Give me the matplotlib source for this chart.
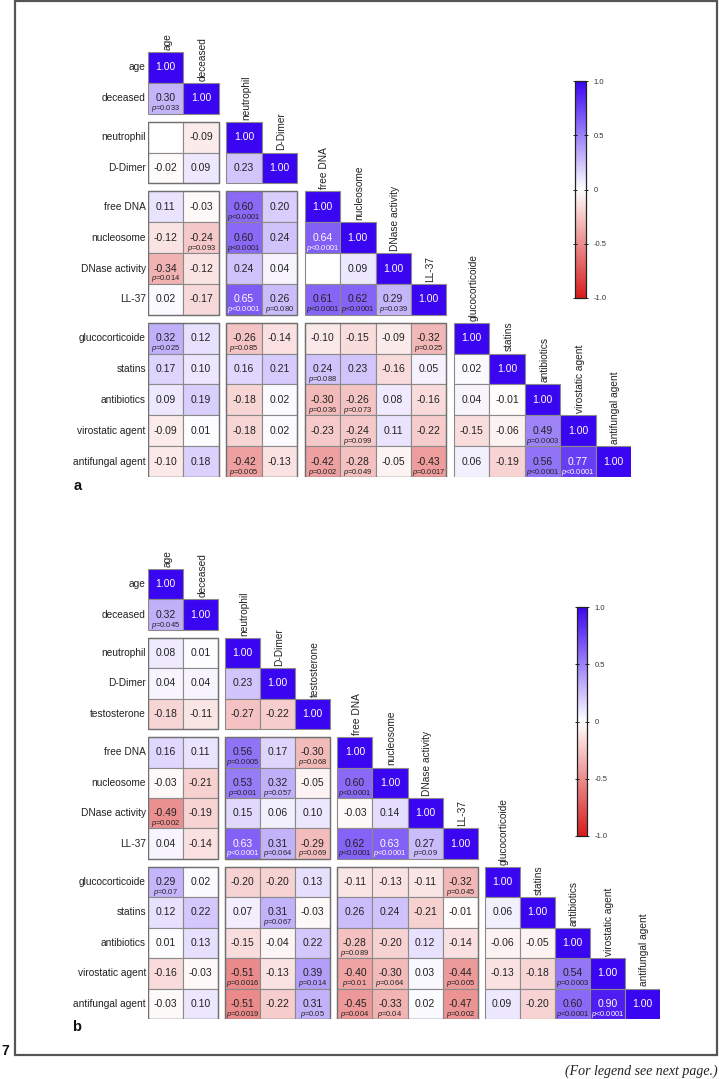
import matplotlib
matplotlib.use('Agg')
import matplotlib.pyplot as plt
from matplotlib.colors import LinearSegmentedColormap, Normalize
from matplotlib.patches import Rectangle
import matplotlib.cm as cm

W, H = 719, 1079
plt.rcParams['font.family'] = ['Liberation Sans', 'DejaVu Sans']
plt.rcParams['mathtext.fontset'] = 'custom'
plt.rcParams['mathtext.it'] = 'Liberation Sans:italic'
plt.rcParams['mathtext.rm'] = 'Liberation Sans'

# ---------------- data: panel a ----------------
labels_a = ['age', 'deceased', 'neutrophil', 'D-Dimer', 'free DNA', 'nucleosome',
            'DNase activity', 'LL-37', 'glucocorticoide', 'statins', 'antibiotics',
            'virostatic agent', 'antifungal agent']
groups_a = [2, 2, 4, 5]
r_a = [
    [],
    [0.30],
    [None, -0.09],
    [-0.02, 0.09, 0.23],
    [0.11, -0.03, 0.60, 0.20],
    [-0.12, -0.24, 0.60, 0.24, 0.64],
    [-0.34, -0.12, 0.24, 0.04, None, 0.09],
    [0.02, -0.17, 0.65, 0.26, 0.61, 0.62, 0.29],
    [0.32, 0.12, -0.26, -0.14, -0.10, -0.15, -0.09, -0.32],
    [0.17, 0.10, 0.16, 0.21, 0.24, 0.23, -0.16, 0.05, 0.02],
    [0.09, 0.19, -0.18, 0.02, -0.30, -0.26, 0.08, -0.16, 0.04, -0.01],
    [-0.09, 0.01, -0.18, 0.02, -0.23, -0.24, 0.11, -0.22, -0.15, -0.06, 0.49],
    [-0.10, 0.18, -0.42, -0.13, -0.42, -0.28, -0.05, -0.43, 0.06, -0.19, 0.56, 0.77],
]
p_a = [
    [],
    ['=0.033'],
    ['', ''],
    ['', '', ''],
    ['', '', '<0.0001', ''],
    ['', '=0.093', '<0.0001', '', '<0.0001'],
    ['=0.014', '', '', '', '', ''],
    ['', '', '<0.0001', '=0.080', '<0.0001', '<0.0001', '=0.039'],
    ['=0.025', '', '=0.085', '', '', '', '', '=0.025'],
    ['', '', '', '', '=0.088', '', '', '', ''],
    ['', '', '', '', '=0.036', '=0.073', '', '', '', ''],
    ['', '', '', '', '', '=0.099', '', '', '', '', '=0.0003'],
    ['', '', '=0.005', '', '=0.002', '=0.049', '', '=0.0017', '', '', '<0.0001', '<0.0001'],
]

# ---------------- data: panel b ----------------
labels_b = ['age', 'deceased', 'neutrophil', 'D-Dimer', 'testosterone', 'free DNA',
            'nucleosome', 'DNase activity', 'LL-37', 'glucocorticoide', 'statins',
            'antibiotics', 'virostatic agent', 'antifungal agent']
groups_b = [2, 3, 4, 5]
r_b = [
    [],
    [0.32],
    [0.08, 0.01],
    [0.04, 0.04, 0.23],
    [-0.18, -0.11, -0.27, -0.22],
    [0.16, 0.11, 0.56, 0.17, -0.30],
    [-0.03, -0.21, 0.53, 0.32, -0.05, 0.60],
    [-0.49, -0.19, 0.15, 0.06, 0.10, -0.03, 0.14],
    [0.04, -0.14, 0.63, 0.31, -0.29, 0.62, 0.63, 0.27],
    [0.29, 0.02, -0.20, -0.20, 0.13, -0.11, -0.13, -0.11, -0.32],
    [0.12, 0.22, 0.07, 0.31, -0.03, 0.26, 0.24, -0.21, -0.01, 0.06],
    [0.01, 0.13, -0.15, -0.04, 0.22, -0.28, -0.20, 0.12, -0.14, -0.06, -0.05],
    [-0.16, -0.03, -0.51, -0.13, 0.39, -0.40, -0.30, 0.03, -0.44, -0.13, -0.18, 0.54],
    [-0.03, 0.10, -0.51, -0.22, 0.31, -0.45, -0.33, 0.02, -0.47, 0.09, -0.20, 0.60, 0.90],
]
p_b = [
    [],
    ['=0.045'],
    ['', ''],
    ['', '', ''],
    ['', '', '', ''],
    ['', '', '=0.0005', '', '=0.068'],
    ['', '', '=0.001', '=0.057', '', '<0.0001'],
    ['=0.002', '', '', '', '', '', ''],
    ['', '', '<0.0001', '=0.064', '=0.069', '<0.0001', '<0.0001', '=0.09'],
    ['=0.07', '', '', '', '', '', '', '', '=0.045'],
    ['', '', '', '=0.067', '', '', '', '', '', ''],
    ['', '', '', '', '', '=0.089', '', '', '', '', ''],
    ['', '', '=0.0016', '', '=0.014', '=0.01', '=0.064', '', '=0.005', '', '', '=0.0003'],
    ['', '', '=0.0019', '', '=0.05', '=0.004', '=0.04', '', '=0.002', '', '', '<0.0001', '<0.0001'],
]

cbar_ticks = [-1.0, -0.5, 0.0, 0.5, 1.0]
cbar_ticklabels = ['-1.0', '-0.5', '0', '0.5', '1.0']

# ---------------- styling ----------------
cmap = LinearSegmentedColormap.from_list('rwb', ['#d71c1c', '#ffffff', '#3a05f0'])
norm = Normalize(-1, 1)
TXT = '#222222'


def pxbox(x0, y0, x1, y1):
    return [x0 / W, 1 - y1 / H, (x1 - x0) / W, (y1 - y0) / H]


fig = plt.figure(figsize=(W / 100, H / 100), dpi=100)


def draw_panel(box, labels, groups, r, p, gx, gy, cbox, letter, lpos):
    n = len(labels)
    gidx = []
    for g, k in enumerate(groups):
        gidx += [g] * k
    xs = [i + gidx[i] * gx for i in range(n)]
    ys = [i + gidx[i] * gy for i in range(n)]
    ax = fig.add_axes(pxbox(*box))
    ax.set_xlim(0, n + (len(groups) - 1) * gx)
    ax.set_ylim(n + (len(groups) - 1) * gy, 0)
    ax.axis('off')
    for i in range(n):
        for j in range(i + 1):
            if i == j:
                v, pv = 1.0, ''
            else:
                v, pv = r[i][j], p[i][j]
            fc = '#ffffff' if v is None else cmap(norm(v))
            ax.add_patch(Rectangle((xs[j], ys[i]), 1, 1, facecolor=fc,
                                   edgecolor='#8a8a8a', lw=0.8))
            if v is None:
                continue
            col = 'white' if v >= 0.625 else TXT
            ax.text(xs[j] + 0.5, ys[i] + 0.5, f'{v:.2f}', ha='center', va='center',
                    fontsize=7.5, color=col)
            if pv:
                ax.text(xs[j] + 0.5, ys[i] + 0.84, r'$\it{p}$' + pv, ha='center',
                        va='center', fontsize=5.4, color=col)
        ax.text(-0.06, ys[i] + 0.5, labels[i], ha='right', va='center',
                fontsize=7.3, color=TXT)
        ax.text(xs[i] + 0.55, ys[i] - 0.07, labels[i], ha='center', va='bottom',
                rotation=90, fontsize=7.3, color=TXT)
    # block outlines for off-diagonal blocks
    starts = [sum(groups[:g]) for g in range(len(groups))]
    for gi in range(len(groups)):
        for gj in range(gi):
            x0 = xs[starts[gj]]
            y0 = ys[starts[gi]]
            ax.add_patch(Rectangle((x0, y0), groups[gj], groups[gi], fill=False,
                                   edgecolor='#707070', lw=1.0))
    ax.text(*lpos, letter, transform=fig.transFigure, ha='left', va='center',
            fontsize=10.5, fontweight='bold', color='#111111')
    cax = fig.add_axes(pxbox(*cbox))
    cb = fig.colorbar(cm.ScalarMappable(norm=norm, cmap=cmap), cax=cax,
                      ticks=cbar_ticks)
    cb.ax.set_yticklabels(cbar_ticklabels)
    cb.ax.tick_params(labelsize=5.5, length=3, width=0.6, direction='inout',
                      left=True, right=True, labelcolor='#333333', pad=4)
    cb.outline.set_linewidth(0.9)
    cb.outline.set_edgecolor('#222222')


draw_panel((148, 52, 631, 477), labels_a, groups_a, r_a, p_a, 0.21, 0.26,
           (575, 81, 586, 298), 'a', (74 / W, 1 - 486 / H))
draw_panel((148, 569, 660, 1019), labels_b, groups_b, r_b, p_b, 0.20, 0.26,
           (577, 607, 587, 836), 'b', (72 / W, 1 - 1027 / H))

# outer frame and page text
fig.patches.append(Rectangle((15 / W, 1 - 1055 / H), (717 - 15) / W, (1055 - 1) / H,
                             transform=fig.transFigure, fill=False,
                             edgecolor='#555555', lw=1.6))
fig.text(9 / W, 1 - 1051 / H, '7', ha='right', va='center', fontsize=10,
         fontweight='bold', color='#111111')
fig.text(718 / W, 1 - 1071 / H, '(For legend see next page.)', ha='right',
         va='center', fontsize=10, style='italic', family='Liberation Serif',
         color='#222222')

fig.savefig('out.png', dpi=100)
